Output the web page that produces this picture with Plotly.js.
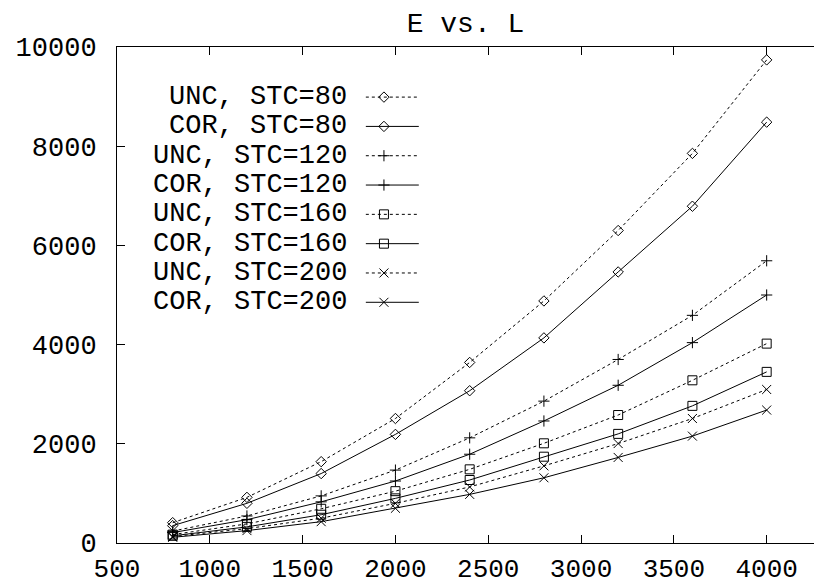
<!DOCTYPE html>
<html>
<head>
<meta charset="utf-8">
<script src="https://cdn.plot.ly/plotly-3.0.1.min.js"></script>
<style>html,body{margin:0;padding:0;background:#fff;}#chart{width:814px;height:586px;}</style>
</head>
<body>
<div id="chart"></div>
<script>
// ---- data ----
const L = [800, 1200, 1600, 2000, 2400, 2800, 3200, 3600, 4000];
const seriesNames = ["UNC, STC=80", "COR, STC=80", "UNC, STC=120", "COR, STC=120",
                     "UNC, STC=160", "COR, STC=160", "UNC, STC=200", "COR, STC=200"];
const unc80  = [410, 920, 1640, 2510, 3640, 4880, 6300, 7855, 9740];
const cor80  = [350, 800, 1400, 2190, 3070, 4135, 5465, 6790, 8485];
const unc120 = [240, 545, 950, 1470, 2120, 2860, 3700, 4590, 5690];
const cor120 = [210, 470, 830, 1250, 1790, 2460, 3180, 4040, 5000];
const unc160 = [170, 385, 690, 1045, 1485, 2010, 2580, 3280, 4020];
const cor160 = [145, 325, 570, 900, 1270, 1740, 2200, 2765, 3450];
const unc200 = [130, 290, 500, 800, 1130, 1555, 2005, 2510, 3095];
const cor200 = [115, 250, 430, 700, 980, 1315, 1725, 2155, 2680];
const xTicks = [500, 1000, 1500, 2000, 2500, 3000, 3500, 4000];
const yTicks = [0, 2000, 4000, 6000, 8000, 10000];
const titleText = "E vs. L";

// ---- styling ----
const allY = [unc80, cor80, unc120, cor120, unc160, cor160, unc200, cor200];
const symbols = ["diamond-open", "diamond-open", "cross-thin-open", "cross-thin-open",
                 "square-open", "square-open", "x-thin-open", "x-thin-open"];
const msizes = [8, 8, 8, 8, 9, 9, 9, 9];
const dashes = ["3px,3px", "solid", "3px,3px", "solid", "3px,3px", "solid", "3px,3px", "solid"];
const FONT = "Liberation Mono, Courier New, monospace";
const FS = 27;

const traces = [];
allY.forEach((ys, i) => {
  traces.push({
    x: L, y: ys, type: "scatter", mode: "lines+markers", name: seriesNames[i],
    line: {color: "#000", width: 1, dash: dashes[i]},
    marker: {symbol: symbols[i], size: msizes[i], color: "#000", line: {color: "#000", width: 1}},
    cliponaxis: false, showlegend: false
  });
});

// legend keys (paper-fraction positions on an overlay axis)
const legTop = 0.899, legStep = 0.0591;
const keyX0 = 0.357, keyX1 = 0.433, keyXm = 0.383, textX = 0.333;
const annotations = [];
seriesNames.forEach((nm, i) => {
  const yy = legTop - i * legStep;
  traces.push({
    x: [keyX0, keyX1], y: [yy, yy], xaxis: "x2", yaxis: "y2", type: "scatter", mode: "lines",
    line: {color: "#000", width: 1, dash: dashes[i]}, showlegend: false, hoverinfo: "skip"
  });
  traces.push({
    x: [keyXm], y: [yy], xaxis: "x2", yaxis: "y2", type: "scatter", mode: "markers",
    marker: {symbol: symbols[i], size: msizes[i], color: "#000", line: {color: "#000", width: 1}},
    showlegend: false, hoverinfo: "skip", cliponaxis: false
  });
  annotations.push({
    text: nm, xref: "paper", yref: "paper", x: textX, y: yy, xanchor: "right", yanchor: "middle",
    showarrow: false, font: {family: FONT, size: FS, color: "#000"}
  });
});

const layout = {
  width: 814, height: 586,
  margin: {l: 117, r: 0, t: 47, b: 43, pad: 0},
  paper_bgcolor: "#fff", plot_bgcolor: "#fff",
  showlegend: false,
  title: {text: titleText, x: 0.5, xref: "paper", y: 1 - 22/586, yref: "container",
          xanchor: "center", yanchor: "middle", font: {family: FONT, size: FS + 1, color: "#000"}},
  font: {family: FONT, size: FS, color: "#000"},
  xaxis: {
    range: [500, 4255], tickvals: xTicks, ticktext: xTicks.map(String),
    showgrid: false, zeroline: false, showline: true, linecolor: "#000", linewidth: 1,
    mirror: "ticks", ticks: "inside", ticklen: 8, tickcolor: "#000", tickwidth: 1,
    tickfont: {family: FONT, size: 26, color: "#000"}, ticklabelstandoff: 2
  },
  yaxis: {
    range: [0, 10000], tickvals: yTicks, ticktext: yTicks.map(String),
    showgrid: false, zeroline: true, zerolinecolor: "#333", zerolinewidth: 2.5,
    showline: true, linecolor: "#000", linewidth: 1,
    mirror: false, ticks: "inside", ticklen: 8, tickcolor: "#000", tickwidth: 1,
    tickfont: {family: FONT, size: FS, color: "#000"}, ticklabelstandoff: 14
  },
  xaxis2: {overlaying: "x", anchor: "y2", range: [0, 1], visible: false, fixedrange: true},
  yaxis2: {overlaying: "y", anchor: "x2", range: [0, 1], visible: false, fixedrange: true},
  annotations: annotations
};

Plotly.newPlot("chart", traces, layout, {staticPlot: true, displayModeBar: false});
</script>
</body>
</html>
